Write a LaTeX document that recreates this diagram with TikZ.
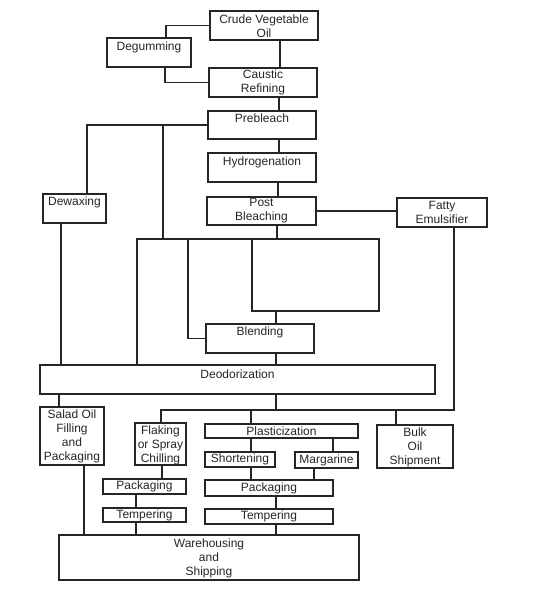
\documentclass[tikz,border=0pt]{standalone}
\usepackage{fontspec}
\setmainfont{Liberation Sans}
\usetikzlibrary{fit}
\newcommand\pbox[7]{%
  \node[box, fit={(#2,#3) (#4,#5)}] (#1) {};
  \node[txt] (#1t) at ({(#2+#4)/2},#6) {#7};}
\begin{document}
\begin{tikzpicture}[x=1pt,y=-1pt,
  box/.style={draw, line width=1.3pt, inner sep=0pt, draw=black!85},
  txt/.style={font=\fontsize{12}{14}\selectfont, align=center, inner sep=0pt, text=black!85},
  conn/.style={line width=1.5pt, draw=black!85}]
\useasboundingbox[fill=white] (0,0) rectangle (549,599);
% boxes
\pbox{crude}{210}{11}{318}{40}{26}{Crude Vegetable\\Oil}
\pbox{degum}{107}{38}{191}{67}{47}{Degumming}
\pbox{caustic}{209}{68}{317}{97}{82.5}{Caustic\\Refining}
\pbox{prebleach}{208}{111}{316}{139}{118}{Prebleach}
\pbox{hydro}{208}{153}{316}{182}{162}{Hydrogenation}
\pbox{post}{207}{197}{316}{225}{211}{Post\\Bleaching}
\pbox{dewax}{43}{194}{106}{223}{202}{Dewaxing}
\pbox{fatty}{397}{198}{487}{227}{212.5}{Fatty\\Emulsifier}
\pbox{blend}{206}{324}{314}{353}{332}{Blending}
\pbox{deod}{40}{365}{435}{394}{374}{Deodorization}
\pbox{salad}{40}{407}{104}{465}{436.5}{Salad Oil\\Filling\\and\\Packaging}
\pbox{flaking}{135}{423}{186}{465}{445}{Flaking\\or Spray\\Chilling}
\pbox{plast}{205}{424}{358}{438}{431.5}{Plasticization}
\pbox{short}{205}{452}{275}{467}{459.5}{Shortening}
\pbox{marg}{295}{452}{358}{468}{460}{Margarine}
\pbox{bulk}{377}{425}{453}{468}{447}{Bulk\\Oil\\Shipment}
\pbox{packL}{103}{479}{186}{494}{486.5}{Packaging}
\pbox{packR}{205}{480}{333}{496}{488}{Packaging}
\pbox{tempL}{103}{508}{186}{522}{515}{Tempering}
\pbox{tempR}{205}{509}{333}{524}{516.5}{Tempering}
\pbox{ware}{59}{535}{359}{580}{558}{Warehousing\\and\\Shipping}
% junction coordinates
\coordinate (busA) at (137,239);
\coordinate (busB) at (379,239);
\coordinate (loopY) at (0,311);
\coordinate (bus2A) at (161,410);
\coordinate (bus2B) at (454,410);
% connectors
\draw[conn] (crude.west) -| (166,0 |- degum.north);
\draw[conn] (165,0 |- degum.south) |- (caustic.west);
\draw[conn] (280,0 |- crude.south) -- (280,0 |- caustic.north);
\draw[conn] (279,0 |- caustic.south) -- (279,0 |- prebleach.north);
\draw[conn] (279,0 |- prebleach.south) -- (279,0 |- hydro.north);
\draw[conn] (278,0 |- hydro.south) -- (278,0 |- post.north);
\draw[conn] (prebleach.west) -| (87,0 |- dewax.north);
\draw[conn] (163,0 |- prebleach.west) -- (163,0 |- busA);
\draw[conn] (post.east) -- (post.east -| fatty.west);
\draw[conn] (277,0 |- post.south) -- (277,0 |- busA);
\draw[conn] (deod.north -| busA) -- (busA) -- (busB) -- (busB |- loopY) -- (252,0 |- loopY) -- (252,0 |- busA);
\draw[conn] (188,0 |- busA) |- (blend.west);
\draw[conn] (276,0 |- loopY) -- (276,0 |- blend.north);
\draw[conn] (276,0 |- blend.south) -- (276,0 |- deod.north);
\draw[conn] (61,0 |- dewax.south) -- (61,0 |- deod.north);
\draw[conn] (fatty.south -| bus2B) -- (bus2B) -- (bus2A) -- (flaking.north -| bus2A);
\draw[conn] (276,0 |- deod.south) -- (276,0 |- bus2A);
\draw[conn] (251,0 |- bus2A) -- (251,0 |- plast.north);
\draw[conn] (396,0 |- bus2A) -- (396,0 |- bulk.north);
\draw[conn] (59,0 |- deod.south) -- (59,0 |- salad.north);
\draw[conn] (251,0 |- plast.south) -- (251,0 |- short.north);
\draw[conn] (333,0 |- plast.south) -- (333,0 |- marg.north);
\draw[conn] (162,0 |- flaking.south) -- (162,0 |- packL.north);
\draw[conn] (251,0 |- short.south) -- (251,0 |- packR.north);
\draw[conn] (314,0 |- marg.south) -- (314,0 |- packR.north);
\draw[conn] (136,0 |- packL.south) -- (136,0 |- tempL.north);
\draw[conn] (276,0 |- packR.south) -- (276,0 |- tempR.north);
\draw[conn] (84,0 |- salad.south) -- (84,0 |- ware.north);
\draw[conn] (136,0 |- tempL.south) -- (136,0 |- ware.north);
\draw[conn] (276,0 |- tempR.south) -- (276,0 |- ware.north);
\end{tikzpicture}
\end{document}
